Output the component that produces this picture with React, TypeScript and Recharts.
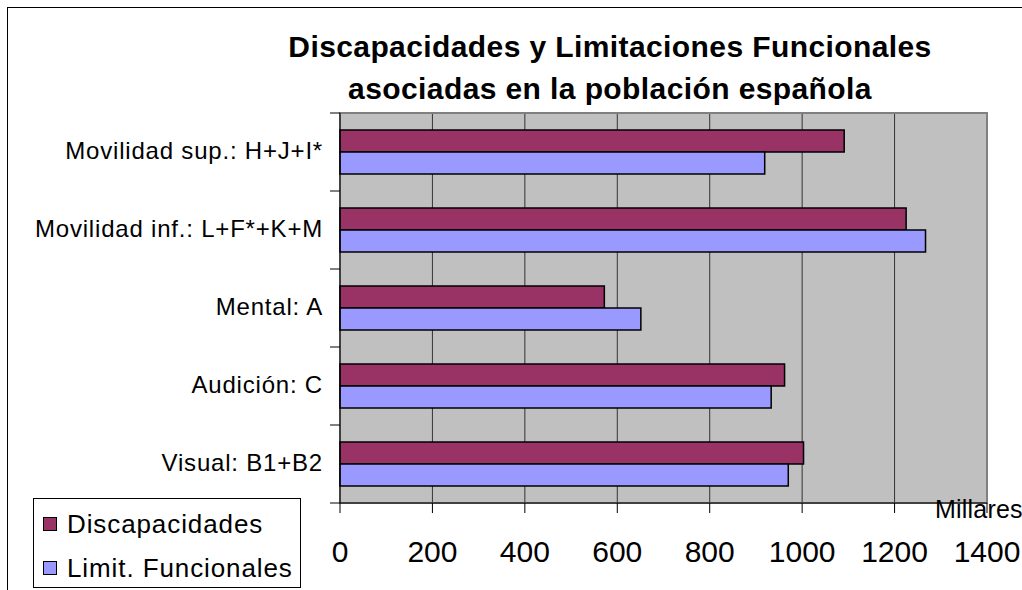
import { BarChart, Bar, XAxis, YAxis, CartesianGrid, ReferenceArea } from "recharts";

const categories = [
  "Movilidad sup.: H+J+I*",
  "Movilidad inf.: L+F*+K+M",
  "Mental: A",
  "Audición: C",
  "Visual: B1+B2",
];
const discapacidades = [1091, 1225, 572, 962, 1003];
const limitFuncionales = [919, 1267, 651, 933, 970];
const xTicks = [0, 200, 400, 600, 800, 1000, 1200, 1400];

const W = 1022;
const H = 590;
const MARGIN = { top: 113, right: 35, bottom: 27, left: 0 };
const X_AXIS_H = 60;
const PLOT_H = H - MARGIN.top - MARGIN.bottom - X_AXIS_H;
const BAND = PLOT_H / categories.length;

const data = categories.map((name, i) => ({
  name,
  disc: discapacidades[i],
  lim: limitFuncionales[i],
}));

const FONT = "'Liberation Sans', Arial, sans-serif";

function YTick(props: any) {
  const { x, y, payload, index } = props;
  const half = BAND / 2;
  return (
    <g>
      <line x1={x + 10} x2={x + 20} y1={y - half} y2={y - half} stroke="#000" />
      {index === categories.length - 1 && (
        <line x1={x + 10} x2={x + 20} y1={y + half} y2={y + half} stroke="#000" />
      )}
      <text x={x + 3} y={y} dy={7} textAnchor="end" fontSize={24} letterSpacing={0.8} fill="#000" fontFamily={FONT}>
        {payload.value}
      </text>
    </g>
  );
}

function XTick(props: any) {
  const { x, y, payload } = props;
  return (
    <text x={x} y={y} dy={47} textAnchor="middle" fontSize={30} fill="#000" fontFamily={FONT}>
      {payload.value}
    </text>
  );
}

export default function App() {
  return (
    <div style={{ position: "absolute", left: 0, top: 0, width: W, height: H, overflow: "hidden", background: "#fff", fontFamily: FONT }}>
      <div style={{ position: "absolute", left: 7, top: 7, width: W + 20, height: H + 20, border: "1.5px solid #000" }} />
      <div style={{ position: "absolute", left: 200, width: 820, top: 26, textAlign: "center", fontWeight: "bold", fontSize: 30, lineHeight: "42px", letterSpacing: 0.4 }}>
        Discapacidades y Limitaciones Funcionales
        <br />
        asociadas en la población española
      </div>
      <BarChart
        width={W}
        height={H}
        data={data}
        layout="vertical"
        margin={MARGIN}
        barGap={0}
        barSize={22}
      >
        <CartesianGrid horizontal={false} vertical={true} stroke="#333" fill="#C0C0C0" fillOpacity={1} />
        <ReferenceArea x1={0} x2={1400} fill="none" stroke="#808080" strokeWidth={2} />
        <XAxis
          type="number"
          domain={[0, 1400]}
          ticks={xTicks}
          height={X_AXIS_H}
          tickSize={10}
          tick={<XTick />}
          stroke="#000"
          tickLine={{ stroke: "#000" }}
          axisLine={{ stroke: "#000" }}
        />
        <YAxis
          type="category"
          dataKey="name"
          width={340}
          tickLine={false}
          tickSize={0}
          tickMargin={20}
          tick={<YTick />}
          axisLine={{ stroke: "#000" }}
        />
        <Bar dataKey="disc" name="Discapacidades" fill="#993366" stroke="#000" strokeWidth={1.5} isAnimationActive={false} />
        <Bar dataKey="lim" name="Limit. Funcionales" fill="#9999FF" stroke="#000" strokeWidth={1.5} isAnimationActive={false} />
      </BarChart>
      <div style={{ position: "absolute", left: 935, top: 495, fontSize: 25, letterSpacing: 0.2 }}>Millares</div>
      <div style={{ position: "absolute", left: 33, top: 498, width: 266, height: 88, border: "1px solid #000", background: "#fff" }}>
        {[
          { label: "Discapacidades", color: "#993366" },
          { label: "Limit. Funcionales", color: "#9999FF" },
        ].map((it, i) => (
          <div key={it.label} style={{ position: "absolute", left: 9, top: 8 + i * 44, height: 34, display: "flex", alignItems: "center", fontSize: 26, letterSpacing: 0.9, whiteSpace: "nowrap" }}>
            <span style={{ display: "inline-block", width: 12, height: 12, background: it.color, border: "1.5px solid #000", marginRight: 10 }} />
            {it.label}
          </div>
        ))}
      </div>
    </div>
  );
}
